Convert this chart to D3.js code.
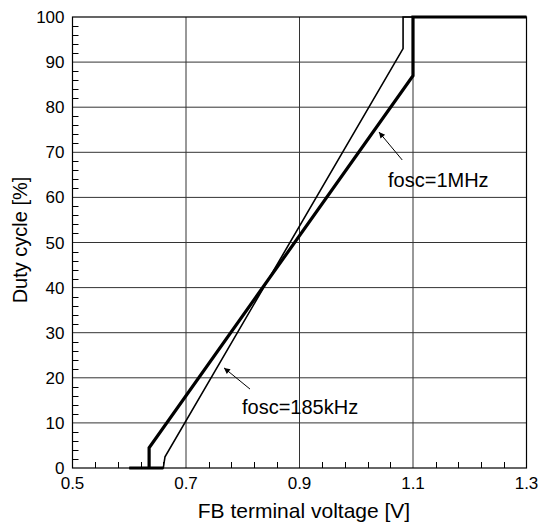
<!DOCTYPE html>
<html>
<head>
<meta charset="utf-8">
<script src="https://cdn.jsdelivr.net/npm/d3@7"></script>
<style>
  html, body { margin: 0; padding: 0; background: #fff; }
  svg { display: block; font-family: "Liberation Sans", Arial, sans-serif; }
</style>
</head>
<body>
<svg id="chart" width="542" height="524"></svg>
<script>
// ---- data ----
const xTickValues = [0.5, 0.7, 0.9, 1.1, 1.3];
const xTickLabels = ["0.5", "0.7", "0.9", "1.1", "1.3"];
const yTickValues = [0, 10, 20, 30, 40, 50, 60, 70, 80, 90, 100];
const xMinorTicks = [0.54, 0.58, 0.62, 0.66, 0.74, 0.78, 0.82, 0.86, 0.94, 0.98, 1.02, 1.06, 1.14, 1.18, 1.22, 1.26];
const yMinorTicks = d3.range(0, 101, 2).filter(v => v % 10 !== 0);

// fosc = 1MHz (thick)
const volt1MHz = [0.66, 0.6, 0.635, 0.635, 1.1, 1.1, 1.3];
const duty1MHz = [0, 0, 0, 4.5, 87, 100, 100];
// fosc = 185kHz (thin)
const volt185k = [0.6, 0.66, 0.663, 1.0825, 1.0825, 1.1];
const duty185k = [0, 0, 2.5, 93, 100, 100];

const annotations = [
  { text: "fosc=1MHz", lx: 1.056, ly: 62.3, tailX: 1.081, tailY: 68.3, tipX: 1.040, tipY: 74.5 },
  { text: "fosc=185kHz", lx: 0.7987, ly: 12.0, tailX: 0.8128, tailY: 17.5, tipX: 0.767, tipY: 22.2 }
];

const xTitle = "FB terminal voltage [V]";
const yTitle = "Duty cycle [%]";

// ---- layout ----
const W = 542, H = 524;
const m = { left: 72.5, right: 15.5, top: 17, bottom: 56 };
const svg = d3.select("#chart");
const x = d3.scaleLinear().domain([0.5, 1.3]).range([m.left, W - m.right]);
const y = d3.scaleLinear().domain([0, 100]).range([H - m.bottom, m.top]);

const g = svg.append("g");

// grid
g.append("g").selectAll("line").data(xTickValues.slice(1, -1)).join("line")
  .attr("x1", d => x(d)).attr("x2", d => x(d))
  .attr("y1", y(0)).attr("y2", y(100))
  .attr("stroke", "#333").attr("stroke-width", 1);
g.append("g").selectAll("line").data(yTickValues.slice(1, -1)).join("line")
  .attr("x1", x(0.5)).attr("x2", x(1.3))
  .attr("y1", d => y(d)).attr("y2", d => y(d))
  .attr("stroke", "#333").attr("stroke-width", 1);

// minor ticks
g.append("g").selectAll("line").data(xMinorTicks).join("line")
  .attr("x1", d => Math.round(x(d)) + 0.5).attr("x2", d => Math.round(x(d)) + 0.5)
  .attr("y1", y(0)).attr("y2", y(0) - 6)
  .attr("stroke", "#000").attr("stroke-width", 1);
g.append("g").selectAll("line").data(yMinorTicks).join("line")
  .attr("x1", x(0.5)).attr("x2", x(0.5) + 6)
  .attr("y1", d => Math.round(y(d)) + 0.5).attr("y2", d => Math.round(y(d)) + 0.5)
  .attr("stroke", "#000").attr("stroke-width", 1);

// frame
g.append("rect")
  .attr("x", x(0.5)).attr("y", y(100))
  .attr("width", x(1.3) - x(0.5)).attr("height", y(0) - y(100))
  .attr("fill", "none").attr("stroke", "#000").attr("stroke-width", 1.2);

// tick labels
g.append("g").selectAll("text").data(xTickValues).join("text")
  .attr("x", d => x(d)).attr("y", y(0) + 21)
  .attr("text-anchor", "middle").attr("font-size", 17).attr("fill", "#000")
  .text((d, i) => xTickLabels[i]);
g.append("g").selectAll("text").data(yTickValues).join("text")
  .attr("x", x(0.5) - 8).attr("y", d => y(d) + 6)
  .attr("text-anchor", "end").attr("font-size", 17).attr("fill", "#000")
  .text(d => d);

// axis titles
g.append("text").attr("x", 304).attr("y", 518)
  .attr("text-anchor", "middle").attr("font-size", 21).text(xTitle);
g.append("text").attr("transform", "translate(27,240) rotate(-90)")
  .attr("text-anchor", "middle").attr("font-size", 20).text(yTitle);

// curves
const line = d3.line().x(d => x(d[0])).y(d => y(d[1]));
const pts185 = volt185k.map((v, i) => [v, duty185k[i]]);
const pts1M = volt1MHz.map((v, i) => [v, duty1MHz[i]]);
g.append("path").attr("d", line(pts185))
  .attr("fill", "none").attr("stroke", "#000").attr("stroke-width", 1.6);
g.append("path").attr("d", line(pts1M))
  .attr("fill", "none").attr("stroke", "#000").attr("stroke-width", 3.2);

// annotations
svg.append("defs").append("marker")
  .attr("id", "arr").attr("viewBox", "0 0 10 10").attr("refX", 10).attr("refY", 5)
  .attr("markerWidth", 9).attr("markerHeight", 6).attr("markerUnits", "userSpaceOnUse")
  .attr("orient", "auto")
  .append("path").attr("d", "M0,0 L10,5 L0,10 Z").attr("fill", "#000");

const ann = g.append("g").selectAll("g").data(annotations).join("g");
ann.append("line")
  .attr("x1", d => x(d.tailX)).attr("y1", d => y(d.tailY))
  .attr("x2", d => x(d.tipX)).attr("y2", d => y(d.tipY))
  .attr("stroke", "#000").attr("stroke-width", 1)
  .attr("marker-end", "url(#arr)");
ann.append("text")
  .attr("x", d => x(d.lx)).attr("y", d => y(d.ly))
  .attr("font-size", 20).attr("fill", "#000")
  .text(d => d.text);
</script>
</body>
</html>
